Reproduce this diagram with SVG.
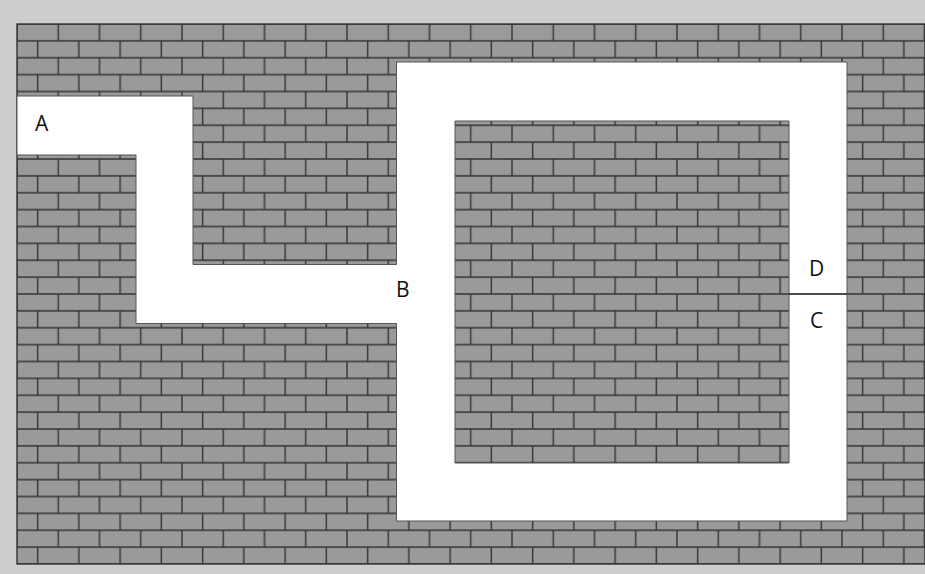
<svg xmlns="http://www.w3.org/2000/svg" width="925" height="574" viewBox="0 0 925 574">
  <defs>
    <pattern id="bricks" patternUnits="userSpaceOnUse" x="17" y="24" width="82.5" height="33.75">
      <rect x="0" y="0" width="82.5" height="33.75" fill="#9a9a9a"/>
      <path d="M0 0H82.5M0 16.875H82.5M0 33.75H82.5M0 0V16.875M41.25 0V16.875M82.5 0V16.875M20.625 16.875V33.75M61.875 16.875V33.75" stroke="#333" stroke-width="1.4" fill="none"/>
    </pattern>
  </defs>
  <style>
    .lbl { font-family: "Open Sans", "Liberation Sans", sans-serif; font-size: 21px; fill: #111; }
  </style>
  <rect id="background" x="0" y="0" width="925" height="574" fill="#cdcdcd"/>
  <rect id="wall" x="17" y="24" width="908" height="540" fill="url(#bricks)" stroke="#333" stroke-width="1.4"/>
  <path id="corridor" fill-rule="evenodd" fill="#ffffff" stroke="#555" stroke-width="1"
        d="M17 96H193V264.5H396.5V62H847V521H396.5V323.5H136V155H17Z M455 121V463H789V121Z"/>
  <g id="connectors">
    <line x1="789" y1="294" x2="847" y2="294" stroke="#111" stroke-width="1.5"/>
  </g>
  <g id="label-A"><text class="lbl" x="35" y="131">A</text></g>
  <g id="label-B"><text class="lbl" x="396" y="297">B</text></g>
  <g id="label-D"><text class="lbl" x="809" y="276">D</text></g>
  <g id="label-C"><text class="lbl" x="810" y="328">C</text></g>
</svg>
